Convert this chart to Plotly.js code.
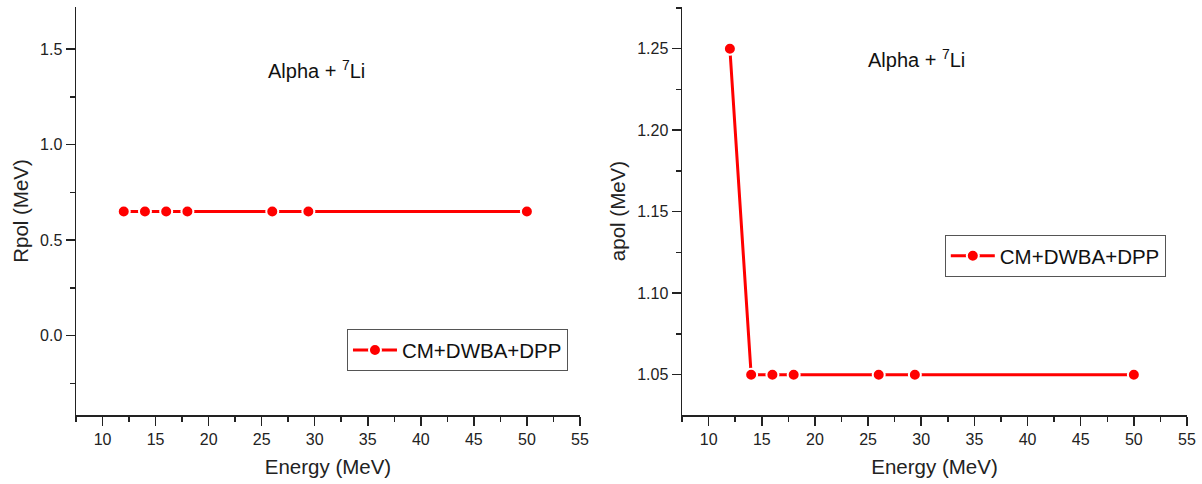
<!DOCTYPE html>
<html>
<head>
<meta charset="utf-8">
<script src="https://cdn.plot.ly/plotly-3.0.1.min.js"></script>
<style>html,body{margin:0;padding:0;background:#fff;}#chart{width:1202px;height:484px;}</style>
</head>
<body>
<div id="chart"></div>
<script>
const energy = [12, 14, 16, 18, 26, 29.4, 50];
const rpol = [0.65, 0.65, 0.65, 0.65, 0.65, 0.65, 0.65];
const apol = [1.25, 1.05, 1.05, 1.05, 1.05, 1.05, 1.05];
const seriesName = 'CM+DWBA+DPP';
const annotationText = 'Alpha + <sup>7</sup>Li';

const FONT = 'Arial, "Liberation Sans", sans-serif';
const RED = '#ff0000';

const markerStyle = {symbol: 'circle', size: 12, color: RED, line: {color: '#ffffff', width: 2}};
const lineStyle = {color: RED, width: 3};

const traces = [
  {x: energy, y: rpol, xaxis: 'x', yaxis: 'y', type: 'scatter', mode: 'lines+markers',
   name: seriesName, line: lineStyle, marker: markerStyle, legend: 'legend', cliponaxis: false},
  {x: energy, y: apol, xaxis: 'x2', yaxis: 'y2', type: 'scatter', mode: 'lines+markers',
   name: seriesName, line: lineStyle, marker: markerStyle, legend: 'legend2', cliponaxis: false}
];

function xAxis(domain, anchor) {
  return {
    domain: domain, anchor: anchor, range: [7.5, 55], dtick: 5, tick0: 0,
    showgrid: false, zeroline: false, showline: true, linecolor: '#222', linewidth: 1.5,
    ticks: 'outside', ticklen: 9, tickwidth: 1.5, tickcolor: '#222',
    minor: {dtick: 2.5, tick0: 0, ticks: 'outside', ticklen: 5, tickwidth: 1.5, tickcolor: '#222'},
    tickfont: {family: FONT, size: 16, color: '#222'},
    title: {text: 'Energy (MeV)', font: {family: FONT, size: 20.5, color: '#222'}, standoff: 13}
  };
}
function yAxis(anchor, range, dtick, fmt, title) {
  return {
    anchor: anchor, range: range, dtick: dtick, tick0: 0, tickformat: fmt,
    showgrid: false, zeroline: false, showline: true, linecolor: '#222', linewidth: 1.5,
    ticks: 'outside', ticklen: 9, tickwidth: 1.5, tickcolor: '#222',
    minor: {dtick: dtick / 2, tick0: 0, ticks: 'outside', ticklen: 5, tickwidth: 1.5, tickcolor: '#222'},
    tickfont: {family: FONT, size: 16, color: '#222'},
    title: {text: title, font: {family: FONT, size: 20.5, color: '#222'}, standoff: 6}
  };
}

const legendStyle = {
  xanchor: 'left', yanchor: 'middle', bgcolor: '#ffffff', bordercolor: '#555', borderwidth: 1,
  font: {family: FONT, size: 20.5, color: '#111'}, tracegroupgap: 0, itemwidth: 44
};

const layout = {
  width: 1202, height: 484,
  margin: {l: 76, r: 15, t: 7, b: 69},
  paper_bgcolor: '#fff', plot_bgcolor: '#fff',
  showlegend: true,
  xaxis: xAxis([0, 0.4536], 'y'),
  yaxis: yAxis('x', [-0.415, 1.72], 0.5, '.1f', 'Rpol (MeV)'),
  xaxis2: xAxis([0.5455, 1], 'y2'),
  yaxis2: yAxis('x2', [1.0253, 1.2756], 0.05, '.2f', 'apol (MeV)'),
  legend: Object.assign({x: 0.2439, y: 0.159}, legendStyle),
  legend2: Object.assign({x: 0.782, y: 0.390}, legendStyle),
  annotations: [
    {xref: 'x domain', yref: 'y domain', x: 0.478, y: 0.846, text: annotationText, showarrow: false,
     xanchor: 'center', yanchor: 'middle', font: {family: FONT, size: 20, color: '#111'}},
    {xref: 'x2 domain', yref: 'y2 domain', x: 0.465, y: 0.875, text: annotationText, showarrow: false,
     xanchor: 'center', yanchor: 'middle', font: {family: FONT, size: 20, color: '#111'}}
  ]
};

Plotly.newPlot('chart', traces, layout, {displayModeBar: false, staticPlot: true});
</script>
</body>
</html>
